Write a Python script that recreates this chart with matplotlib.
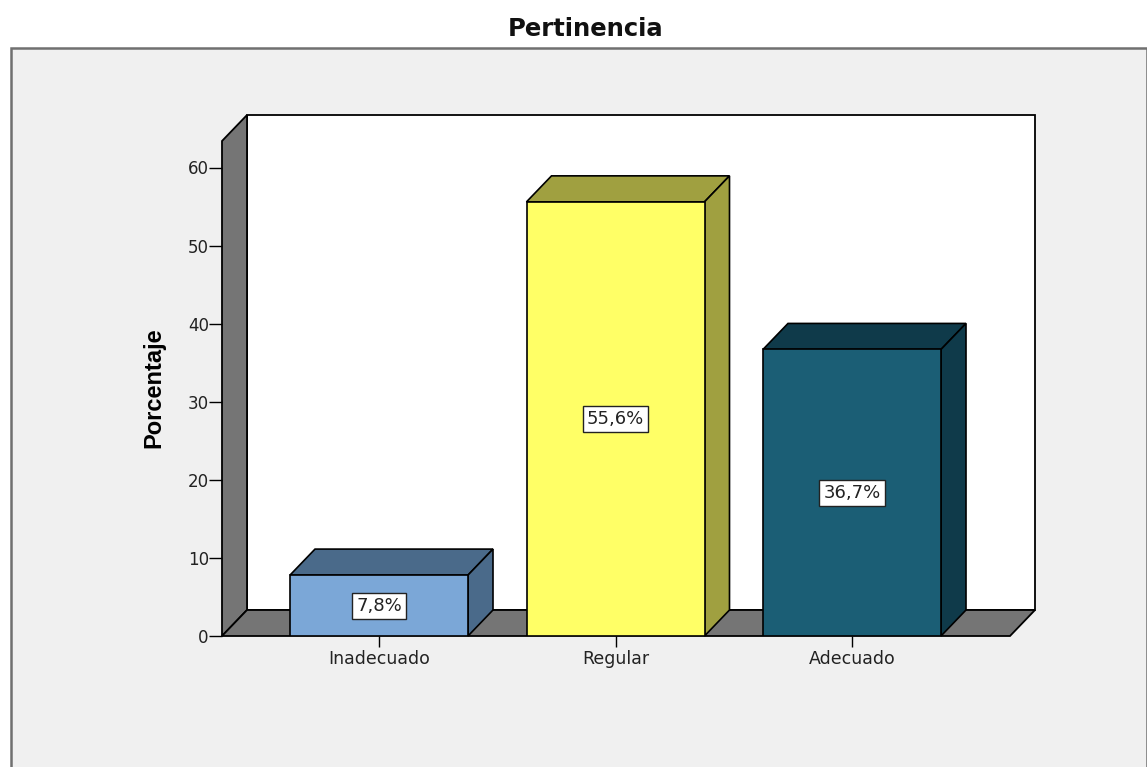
import matplotlib
matplotlib.use('Agg')
import matplotlib.pyplot as plt
from matplotlib.patches import Polygon, Rectangle

categories = ['Inadecuado', 'Regular', 'Adecuado']
values = [7.8, 55.6, 36.7]
labels = ['7,8%', '55,6%', '36,7%']
yticks = [0, 10, 20, 30, 40, 50, 60]

front_colors = ['#7BA7D7', '#FFFF66', '#1B5E75']
top_colors = ['#4A6A8A', '#A0A040', '#0F3A4A']

W, H = 1147, 767
fig = plt.figure(figsize=(W / 100, H / 100), dpi=100, facecolor='white')
# pixel axes for the frame, title and 3d box
bg = fig.add_axes([0, 0, 1, 1])
bg.set_xlim(0, W)
bg.set_ylim(H, 0)
bg.axis('off')

bg.add_patch(Polygon([(11, 767), (11, 48), (1147, 48), (1147, 767)], closed=False,
                     facecolor='#F0F0F0', edgecolor='#707070', lw=1.8))
bg.text(586, 29, 'Pertinencia', ha='center', va='center', fontsize=17.5,
        fontweight='bold', family='DejaVu Sans', color='#111111')

# 3d box: depth offset in pixels
dx, dy = 25, 26
x0, x1 = 222, 1010
y_base = 636
y_60 = 167.5
y_top = 115
px_per_cat = 236.5
first_center = 379
bar_px = 178

bg.add_patch(Polygon([(x0 + dx, y_top), (1035, y_top), (1035, y_base - dy), (x0 + dx, y_base - dy)],
                     facecolor='white', edgecolor='black', lw=1.3))
bg.add_patch(Polygon([(x0, y_top + dy), (x0 + dx, y_top), (x0 + dx, y_base - dy), (x0, y_base)],
                     facecolor='#757575', edgecolor='black', lw=1.3))
bg.add_patch(Polygon([(x0, y_base), (x0 + dx, y_base - dy), (1035, y_base - dy), (x1, y_base)],
                     facecolor='#757575', edgecolor='black', lw=1.3))

# data axes sit on the front plane of the box
ax = fig.add_axes([x0 / W, 1 - y_base / H, (x1 - x0) / W, (y_base - y_60) / H])
ax.patch.set_alpha(0)
ax.set_ylim(0, 60)
ax.set_xlim((x0 - first_center) / px_per_cat, (x1 - first_center) / px_per_cat)
for s in ax.spines.values():
    s.set_visible(False)
ax.set_yticks(yticks)
ax.set_xticks(range(len(categories)))
ax.set_xticklabels(categories)
ax.tick_params(axis='y', direction='out', length=9.5, width=1, labelsize=12, pad=0,
               labelcolor='#222222')
ax.tick_params(axis='x', direction='out', length=8, width=1, labelsize=12.5, pad=2,
               labelcolor='#222222')
for t in ax.get_xticklabels() + ax.get_yticklabels():
    t.set_family('DejaVu Sans')
ax.set_ylabel('Porcentaje', fontsize=17, fontweight='bold', family='Liberation Sans')
ax.yaxis.set_label_coords((165 - x0) / (x1 - x0), (y_base - 388) / (y_base - y_60))

# depth offset converted to data units
ddx = dx / px_per_cat
ddy = dy / (y_base - y_60) * 60
bw = bar_px / px_per_cat

for i, v in enumerate(values):
    left = i - bw / 2
    right = i + bw / 2
    ax.add_patch(Polygon([(left, v), (left + ddx, v + ddy), (right + ddx, v + ddy), (right, v)],
                         facecolor=top_colors[i], edgecolor='black', lw=1.2, clip_on=False))
    ax.add_patch(Polygon([(right, 0), (right + ddx, ddy), (right + ddx, v + ddy), (right, v)],
                         facecolor=top_colors[i], edgecolor='black', lw=1.2, clip_on=False))
    ax.add_patch(Rectangle((left, 0), bw, v, facecolor=front_colors[i], edgecolor='black', lw=1.2))
    ax.text(i, v / 2, labels[i], ha='center', va='center', fontsize=13, family='DejaVu Sans',
            color='#222222',
            bbox=dict(facecolor='white', edgecolor='#222222', lw=1, boxstyle='square,pad=0.22'))

fig.savefig('out.png', dpi=100)
